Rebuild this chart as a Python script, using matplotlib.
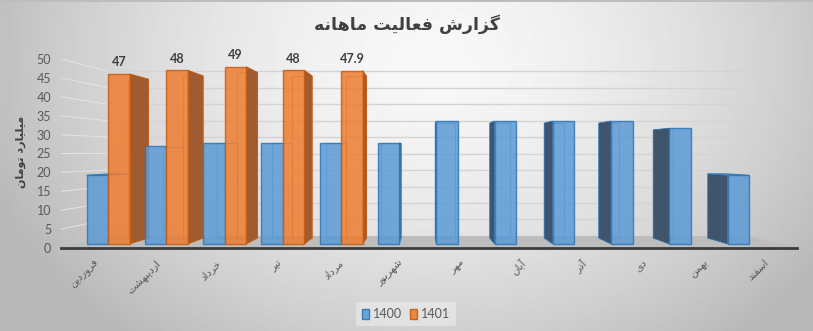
import numpy as np
import matplotlib
matplotlib.use("Agg")
import matplotlib.pyplot as plt
from matplotlib.patches import Polygon, Rectangle, Patch

# ---------------- data ----------------
months = ['فروردین', 'اردیبهشت', 'خرداد', 'تیر', 'مرداد', 'شهریور',
          'مهر', 'آبان', 'آذر', 'دی', 'بهمن', 'اسفند']
series_names = ['1400', '1401']
values_1400 = [19, 27, 28, 28, 28, 28, 34, 34, 34, 34, 32, 19]
values_1401 = [47, 48, 49, 48, 47.9]
labels_1401 = ['47', '48', '49', '48', '47.9']
yticks = [0, 5, 10, 15, 20, 25, 30, 35, 40, 45, 50]
title_text = 'گزارش فعالیت ماهانه'
ylabel_text = 'میلیارد تومان'

# ---------------- minimal Persian shaping (presentation forms, visual order) ----------------
FORMS = {
    'ا': ('\uFE8D', '\uFE8E', None, None),
    'آ': ('\uFE81', '\uFE82', None, None),
    'ب': ('\uFE8F', '\uFE90', '\uFE91', '\uFE92'),
    'پ': ('\uFB56', '\uFB57', '\uFB58', '\uFB59'),
    'ت': ('\uFE95', '\uFE96', '\uFE97', '\uFE98'),
    'خ': ('\uFEA5', '\uFEA6', '\uFEA7', '\uFEA8'),
    'د': ('\uFEA9', '\uFEAA', None, None),
    'ذ': ('\uFEAB', '\uFEAC', None, None),
    'ر': ('\uFEAD', '\uFEAE', None, None),
    'ز': ('\uFEAF', '\uFEB0', None, None),
    'س': ('\uFEB1', '\uFEB2', '\uFEB3', '\uFEB4'),
    'ش': ('\uFEB5', '\uFEB6', '\uFEB7', '\uFEB8'),
    'ع': ('\uFEC9', '\uFECA', '\uFECB', '\uFECC'),
    'ف': ('\uFED1', '\uFED2', '\uFED3', '\uFED4'),
    'گ': ('\uFB92', '\uFB93', '\uFB94', '\uFB95'),
    'ل': ('\uFEDD', '\uFEDE', '\uFEDF', '\uFEE0'),
    'م': ('\uFEE1', '\uFEE2', '\uFEE3', '\uFEE4'),
    'ن': ('\uFEE5', '\uFEE6', '\uFEE7', '\uFEE8'),
    'ه': ('\uFEE9', '\uFEEA', '\uFEEB', '\uFEEC'),
    'و': ('\uFEED', '\uFEEE', None, None),
    'ی': ('\uFBFC', '\uFBFD', '\uFBFE', '\uFBFF'),
}


def fa(text):
    out = []
    for k, c in enumerate(text):
        if c not in FORMS:
            out.append(c)
            continue
        prev = text[k - 1] if k > 0 else None
        nxt = text[k + 1] if k + 1 < len(text) else None
        jp = prev in FORMS and FORMS[prev][2] is not None
        jn = FORMS[c][2] is not None and nxt in FORMS
        iso, fin, ini, med = FORMS[c]
        if jp and jn:
            out.append(med)
        elif jp:
            out.append(fin)
        elif jn:
            out.append(ini)
        else:
            out.append(iso)
    return ''.join(out)[::-1]


FA_FONT = 'DejaVu Sans'
NUM_FONT = ['Lato', 'DejaVu Sans']

# ---------------- 3D-look geometry ----------------
VP_X, VP_Y = 5.37, 24.9      # vanishing point (data coords)
D_FRONT, D_BACK, D_WALL = 0.043, 0.105, 0.128
BW = 0.369
X_L, X_R = -0.542, 11.544


def px(x, d):
    return x + d * (VP_X - x)


def py(y, d):
    return y + d * (VP_Y - y)


W, H = 813, 331
fig = plt.figure(figsize=(W / 100, H / 100), dpi=100)

# background radial gradient
bg = fig.add_axes([0, 0, 1, 1], zorder=-5)
yy, xx = np.mgrid[0:H, 0:W]
r = np.sqrt(((xx - 430) / 520.0) ** 2 + ((yy - 60) / 400.0) ** 2)
val = np.clip(248 - 75 * r ** 1.6, 185, 250) / 255.0
val[0:2, :] = 0.74
bg.imshow(val, cmap='gray', vmin=0, vmax=1, aspect='auto', interpolation='bilinear')
bg.axis('off')

ax = fig.add_axes([61 / W, (H - 248) / H, (797 - 61) / W, (248 - 59) / H], zorder=1)
ax.patch.set_visible(False)
ax.set_xlim(X_L, X_R)
ax.set_ylim(0, 50)

# floor
floor = Polygon([(X_L, 0), (X_R, 0), (px(X_R, D_WALL), py(0, D_WALL)), (px(X_L, D_WALL), py(0, D_WALL))],
                closed=True, facecolor='#bdbdbd', edgecolor='none', zorder=0.5)
ax.add_patch(floor)

# gridlines on back wall and left wall
for v in yticks[1:]:
    ax.plot([px(X_L, D_WALL), px(X_R, D_WALL)], [py(v, D_WALL)] * 2, color='#d4d4d4', lw=1.0, zorder=0.4)
    ax.plot([X_L, px(X_L, D_WALL)], [v, py(v, D_WALL)], color='#e4e4e4', lw=0.7, zorder=0.4)

BLUE, BLUE_E, BLUE_S = '#5B9BD5', '#2E75B6', '#40546B'
ORNG, ORNG_E, ORNG_S = '#ED7D31', '#C55A11', '#A05C30'


def draw_series(xs_left, heights, face, edge, side, skip_right_side=None):
    fx_c, fw, fb, fh = [], [], [], []
    for j, (x0, h) in enumerate(zip(xs_left, heights)):
        x1 = x0 + BW
        bx0, bx1 = px(x0, D_BACK), px(x1, D_BACK)
        by0, by1 = py(0, D_BACK), py(h, D_BACK)
        fx0, fx1 = px(x0, D_FRONT), px(x1, D_FRONT)
        fy0, fy1 = py(0, D_FRONT), py(h, D_FRONT)
        # back face outline (seen through translucent front)
        ax.add_patch(Rectangle((bx0, by0), bx1 - bx0, by1 - by0, fill=False,
                               edgecolor=edge, lw=0.8, alpha=0.6, zorder=2))
        # visible side face
        hidden = skip_right_side is not None and skip_right_side[j]
        if fx1 < VP_X and not hidden:
            ax.add_patch(Polygon([(fx1, fy0), (fx1, fy1), (bx1, by1), (bx1, by0)], closed=True,
                                 facecolor=side, edgecolor=edge, lw=0.6, zorder=3))
        elif fx0 > VP_X:
            ax.add_patch(Polygon([(fx0, fy0), (fx0, fy1), (bx0, by1), (bx0, by0)], closed=True,
                                 facecolor=side, edgecolor=edge, lw=0.6, zorder=3))
        if fy1 < VP_Y:
            ax.add_patch(Polygon([(fx0, fy1), (fx1, fy1), (bx1, by1), (bx0, by1)], closed=True,
                                 facecolor=face, edgecolor=edge, lw=0.6, zorder=3))
        fx_c.append((fx0 + fx1) / 2)
        fw.append(fx1 - fx0)
        fb.append(fy0)
        fh.append(fy1 - fy0)
    return ax.bar(fx_c, fh, width=fw, bottom=fb, color=face, alpha=0.85,
                  edgecolor=edge, linewidth=1.0, zorder=4)


idx = np.arange(len(months))
has_1401 = [i < len(values_1401) for i in idx]
draw_series(idx - BW, values_1400, BLUE, BLUE_E, BLUE_S, skip_right_side=has_1401)
bars_o = draw_series(idx[:len(values_1401)], values_1401, ORNG, ORNG_E, ORNG_S)

# data labels for 1401
for rect, lab in zip(bars_o, labels_1401):
    ax.annotate(lab, (rect.get_x() + rect.get_width() / 2, rect.get_y() + rect.get_height()),
                xytext=(0, 4), textcoords='offset points', ha='center', va='bottom',
                fontsize=9, fontweight='bold', color='#404040', family=NUM_FONT,
                annotation_clip=False, zorder=6)

# axes styling
for s in ['top', 'right', 'left']:
    ax.spines[s].set_visible(False)
ax.spines['bottom'].set_color('#3c3c3c')
ax.spines['bottom'].set_linewidth(2)
ax.spines['bottom'].set_zorder(5)

ax.set_yticks(yticks)
ax.set_yticklabels([str(t) for t in yticks], family=NUM_FONT)
ax.tick_params(axis='y', length=0, pad=7, labelsize=9, labelcolor='#595959')
ax.set_xticks(idx)
ax.set_xticklabels([fa(m) for m in months], rotation=45, ha='right', va='top',
                   rotation_mode='anchor', family=FA_FONT, fontsize=7.5, color='#595959')
ax.tick_params(axis='x', length=0, pad=7)

# title and y label
fig.text(407 / W, (H - 24) / H, fa(title_text), ha='center', va='center',
         fontsize=12.5, fontweight='bold', color='#404040', family=FA_FONT)
fig.text(21 / W, (H - 152) / H, fa(ylabel_text), ha='center', va='center', rotation=90,
         fontsize=8, fontweight='bold', color='#404040', family=FA_FONT)

# legend
handles = [Patch(facecolor=BLUE, edgecolor=BLUE_E, alpha=0.9, label=series_names[0]),
           Patch(facecolor=ORNG, edgecolor=ORNG_E, alpha=0.9, label=series_names[1])]
leg = fig.legend(handles=handles, loc='center', bbox_to_anchor=(406 / W, (H - 314) / H), ncol=2,
                 frameon=True, fontsize=9, handlelength=0.6, handleheight=0.9,
                 handletextpad=0.3, columnspacing=0.6, borderpad=0.5,
                 prop={'family': NUM_FONT, 'size': 9})
leg.get_frame().set_facecolor('white')
leg.get_frame().set_alpha(0.35)
leg.get_frame().set_edgecolor('none')
for t in leg.get_texts():
    t.set_color('#595959')

fig.savefig('out.png', dpi=100)
